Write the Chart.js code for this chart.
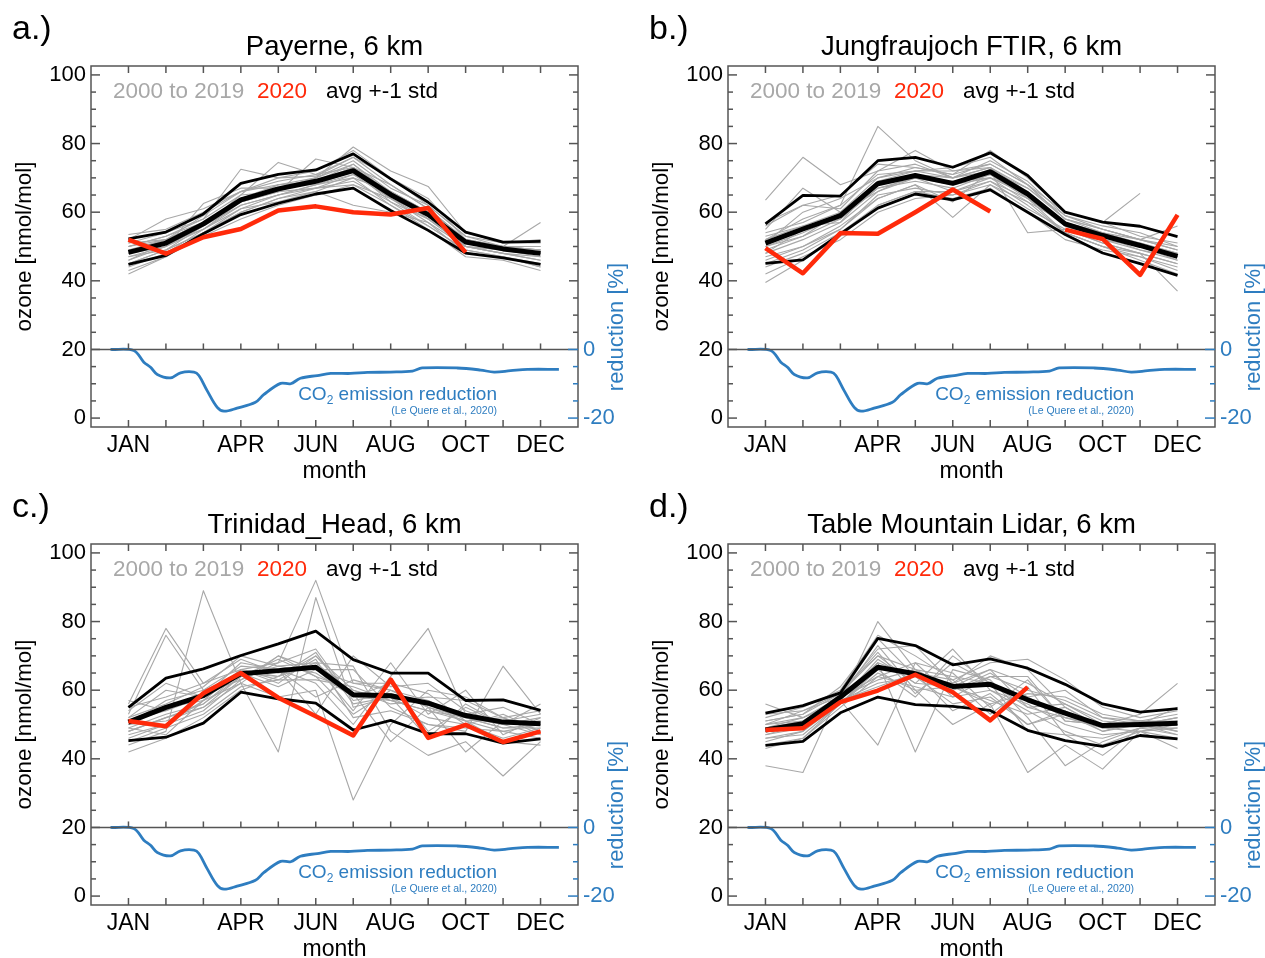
<!DOCTYPE html>
<html>
<head>
<meta charset="utf-8">
<script src="https://cdn.jsdelivr.net/npm/chart.js@4.4.0/dist/chart.umd.min.js"></script>
<style>
  html, body { margin: 0; padding: 0; background: #fff; overflow: hidden; }
  #wrap { position: relative; width: 1265px; height: 958px; }
  canvas { position: absolute; }
</style>
</head>
<body>
<div id="wrap">
  <canvas id="pa" width="632" height="479" style="left:0;top:0"></canvas>
  <canvas id="pb" width="632" height="479" style="left:637px;top:0"></canvas>
  <canvas id="pc" width="632" height="479" style="left:0;top:478px"></canvas>
  <canvas id="pd" width="632" height="479" style="left:637px;top:478px"></canvas>
</div>
<script>
const FONT = "'Liberation Sans', Arial, sans-serif";
const GREY = '#a8a8a8', RED = '#ff2a0a', BLUE = '#2e7dc0';

// x axis: month number 1..12, labelled ones only
const tickMonths = [1, 4, 6, 8, 10, 12];
const monthNames = ['', 'JAN', 'FEB', 'MAR', 'APR', 'MAY', 'JUN', 'JUL', 'AUG', 'SEP', 'OCT', 'NOV', 'DEC'];
const ozoneTicks = [0, 20, 40, 60, 80, 100];
const reductionTicks = [0, -20];

const stations = ['Payerne, 6 km', 'Jungfraujoch FTIR, 6 km', 'Trinidad_Head, 6 km', 'Table Mountain Lidar, 6 km'];
const letters = ['a.)', 'b.)', 'c.)', 'd.)'];

// CO2 emission reduction in % (Le Quere et al., 2020), position in months
const co2Month = [0.52, 1.14, 1.41, 1.59, 1.77, 2.12, 2.39, 2.75, 2.88, 3.10, 3.37, 3.55, 3.90, 4.39, 4.61, 5.06, 5.33, 5.59, 6.04, 6.40, 6.93, 7.38, 8.00, 8.58, 8.84, 9.78, 10.40, 10.76, 11.20, 11.65, 12.49];
const co2Pct   = [0, -0.3, -3.7, -5.2, -7.3, -8.3, -6.8, -6.6, -7.6, -12, -16.9, -18.0, -17.1, -15.4, -13.2, -9.9, -10.0, -8.4, -7.6, -7.0, -7.0, -6.7, -6.6, -6.3, -5.4, -5.4, -6.0, -6.6, -6.2, -5.8, -5.8];

// a.) Payerne
const greyA = [
  [53.5,55,60,66,70,70.5,76,70,64,52,50,50],
  [42,47,53,58,62,65,68,62,55,47,46,43],
  [49,52,57,64,67,69,74,66,60,50,49,49],
  [47,50,55,62,65,67,71,64,58,51,49,47],
  [51,54,58,72.5,70,72,78,70,62,53,51,52],
  [45,49,54,60,64,66,70,62,56,49,47,45],
  [50,53,58,65,74.5,71,73,65,60,52,50,49],
  [44,48,55,61,63,66,62,60,57,48,47,44],
  [48,52,57,63,66,75.5,73,68,61,52,49,48],
  [52,58,61,66,68,70,79,72,67.5,54,51,51],
  [46,50,56,64,67,69,72,64,59,50,48,46],
  [50,52,57,63,68,68,71,66,60,51,50,57],
  [43,47,54,60,64,67,69,63,56,49,47,44],
  [49,51,56,65,66,70,75,67,62,53,50,49],
  [47,49,56,62,65,68,70,66,58,50,49,48],
  [51,52,59,66,69,71,76,68,61,52,50,50],
  [46,51,55,63,66,67,68,64,57,50,48,47],
  [48,50,62.5,67,67,70,74,65,59,51,49,48],
  [45,49,54,61,65,68,72,63,58,50,48,46],
  [50,53,57,64,68,69,73,66,60,52,50,49]
];
const avgA = [48.3,51,56.6,63.6,66.8,69,72.1,65.1,59.3,51.3,49.3,48];
const hiA  = [52.2,54.2,59.5,68.4,71,72.3,77,69.7,62.9,54.2,51.3,51.5];
const loA  = [44.8,47.4,53.7,59.3,62.6,65.3,67,60.5,54.7,48.1,46.7,44.8];
const redA = [52,47.9,52.7,55.1,60.5,61.7,60,59.3,61.2,48.3,null,null];

// b.) Jungfraujoch FTIR
const greyB = [
  [63.5,76,68,72,74,70,75,69,59,56,54,50],
  [39.5,46,53,62,66,66,69,62,54,50,47,44],
  [52,58,62,85,75,70,73,66,57,54,51,48],
  [48,52,57,66,70,68,71,64,56,52,49,46],
  [55,67,60,70,72,73,76,68,58,55,52,49],
  [46,50,56,64,68,58.5,68,61,55,51,48,45],
  [51,60,64,70,73,71,78,70,60,57,65.5,null],
  [44,48,54,62,66,64,67,60,52,49,47,43],
  [53,56,60,69,71,70,72,67,58,54,50,47],
  [49,53,58,67,70,66,70,63,57,53,50,46],
  [57,62,61,72,78,72,74,68,58,55,52,50],
  [47,50,55,64,68,63,72,54,55,51,48,37],
  [50,54,59,68,70,69,70,65,56,53,49,47],
  [42,47,52,60,64,65,68,63,54,50,46,42],
  [54,57,62,71,72,72,73,67,59,55,52,49],
  [48,55,58,67,69,67,71,66,57,52,50,47],
  [56,62,65,74,73,71,74,68,60,57,53,51],
  [45,49,55,65,67,65,69,64,54,50,48,45],
  [50,53,60,66,71,68,70,66,56,53,51,48],
  [52,56,57,69,72,70,73,64,57,54,52,56]
];
const avgB = [51,55.1,59,68.3,70.7,68.4,71.8,65.3,56.6,53.2,50.3,47.1];
const hiB  = [56.6,64.9,64.7,75,76,73.1,77.3,70.7,60,57.1,55.9,52.9];
const loB  = [45.1,46.1,53.7,61.2,65.3,63.6,66.5,60,53.5,48.1,45,41.6];
const redB = [49.5,42.2,53.9,53.7,60,66.6,60.2,null,54.9,52.2,41.7,59.2];

// c.) Trinidad Head
const greyC = [
  [56,78,62,66,64,70,60,57,54,52,50,52],
  [44,48,89,62,58,60,28,50,60,58,52,48],
  [50,55,57,66,68,92,62,60,55,51,48,50],
  [48,52,55,62,42,87,55,58,52,50,46,49],
  [52,60,58,68,66,62,50,64,78,53,50,51],
  [46,50,54,63,70,66,66,55,50,48,67,53],
  [53,76,60,64,67,65,58,62,48,55,50,47],
  [42,46,52,60,64,68,67,48,41,45,35,45],
  [51,54,58,66,62,70,58,57,58,57,52,54],
  [49,53,56,64,66,58,63,60,55,52,49,50],
  [55,58,62,69,65,67,54,68,53,60,47,52],
  [47,50,57,62,70,64,60,56,57,50,53,48],
  [50,57,60,67,66,53,70,61,62,54,50,56],
  [45,49,53,61,63,69,52,54,50,49,48,46],
  [57,54,59,63,68,72,57,59,56,53,55,50],
  [48,52,56,65,61,66,62,62,59,51,45,44],
  [52,56,61,70,67,68,59,45,55,42,51,53],
  [50,51,55,64,69,64,53,60,57,52,49,49],
  [54,62,58,65,64,71,56,58,46,56,50,51],
  [49,47,57,66,63,63,61,57,54,51,52,47]
];
const avgC = [50.7,55,58.4,64.8,65.7,66.7,58.7,58.4,56.2,52.6,50.7,50.2];
const hiC  = [55,63.5,66.2,70.1,73.5,77.2,68.9,65,65,57,57.2,54.1];
const loC  = [45.3,46.3,50.4,59.4,57.5,56.2,48.4,51.2,47.3,47.3,44.6,45.8];
const redC = [51,49.5,59.1,65,57.8,52.4,46.8,63.1,46.1,49.9,44.9,48];

// d.) Table Mountain Lidar
const greyD = [
  [56,52,57,80,66,64,62,55,52,50,50,52],
  [38,36,60,70,62,72,60,54,48,44,48,49],
  [50,54,59,72,73,62,70,66,55,49,51,50],
  [46,48,57,44,68,58,64,60,57,52,50,48],
  [49,52,58,68,42,66,63,52,38,45,49,47],
  [52,55,60,76,70,63,68,69,63,55,52,54],
  [44,46,56,65,60,50,56,36,44,37,48,43],
  [48,50,59,70,66,60,65,58,52,49,50,52],
  [47,49,57,62,64,56,58,50,54,48,51,50],
  [51,53,61,75,64,62,66,62,56,51,50,55],
  [45,48,56,66,58,70,62,48,47,41,49,51],
  [49,51,57,69,62,61,56,59,58,53,51,48],
  [53,54,58,64,68,65,55,63,51,50,53,62],
  [43,46,55,64,61,58,60,56,50,47,48,46],
  [50,51,58,73,60,61,66,55,56,50,50,50],
  [48,49,57,61,65,63,53,61,47,46,49,49],
  [51,53,59,71,59,68,62,58,60,52,51,53],
  [46,47,56,67,65,54,59,50,53,48,50,47],
  [47,50,58,63,66,60,64,64,51,50,51,51],
  [50,52,57,68,64,61,57,53,55,49,48,50]
];
const avgD = [48.4,50.2,58,66.7,64.8,61.1,61.7,57.2,53.3,49.7,50,50.4];
const hiD  = [53.3,55.5,59.2,75.1,73,67.4,69.1,66.4,61.7,56,53.6,54.6];
const loD  = [43.9,45.1,53.4,58,55.8,55.3,54.1,48.3,45.3,43.6,46.8,45.8];
const redD = [48.4,48.9,56.5,59.9,64.5,59.4,51.2,60.9,null,null,null,null];

const pts = arr => arr.map((v, i) => ({ x: i + 1, y: v }));

function line(ctx, x1, y1, x2, y2) {
  ctx.beginPath(); ctx.moveTo(x1, y1); ctx.lineTo(x2, y2); ctx.stroke();
}

// box, inner ticks, separator and all the annotations
const decor = {
  id: 'decor',
  afterDraw(chart, args, o) {
    const { ctx, chartArea: a, scales: { x, y, y2 } } = chart;
    ctx.save();
    ctx.lineWidth = 1.5;
    ctx.strokeStyle = '#555';
    ctx.strokeRect(a.left, a.top, a.right - a.left, a.bottom - a.top);
    const ySep = y.getPixelForValue(20);
    line(ctx, a.left, ySep, a.right, ySep);

    // month ticks: bottom, top, separator
    for (let m = 1; m <= 12; m++) {
      const px = x.getPixelForValue(m);
      line(ctx, px, a.bottom, px, a.bottom - 7);
      line(ctx, px, a.top, px, a.top + 7);
      line(ctx, px, ySep, px, ySep - 6);
    }
    // ozone ticks left (and right above separator)
    for (let v = 0; v <= 100; v += 5) {
      const py = y.getPixelForValue(v);
      const len = v % 20 === 0 ? 9 : 5;
      ctx.strokeStyle = '#555';
      line(ctx, a.left, py, a.left + len, py);
      if (v > 20) line(ctx, a.right, py, a.right - len, py);
    }
    // reduction ticks right
    ctx.strokeStyle = BLUE;
    for (let v = 0; v >= -20; v -= 5) {
      const py = y2.getPixelForValue(v);
      const len = v % 20 === 0 ? 10 : 5;
      line(ctx, a.right, py, a.right - len, py);
    }

    ctx.textBaseline = 'middle';
    // panel letter and title
    ctx.fillStyle = '#000';
    ctx.textAlign = 'left';
    ctx.font = '34px ' + FONT;
    ctx.fillText(o.letter, 12, 30);
    ctx.textAlign = 'center';
    ctx.font = '27.5px ' + FONT;
    ctx.fillText(o.title, (a.left + a.right) / 2, 47);

    // axis titles
    ctx.font = '23px ' + FONT;
    ctx.fillText('month', (a.left + a.right) / 2, a.bottom + 45);
    ctx.font = '22.3px ' + FONT;
    ctx.save();
    ctx.translate(a.left - 66, (a.top + a.bottom) / 2);
    ctx.rotate(-Math.PI / 2);
    ctx.fillText('ozone [nmol/mol]', 0, 0);
    ctx.restore();
    ctx.save();
    ctx.fillStyle = BLUE;
    ctx.font = '22px ' + FONT;
    ctx.translate(a.right + 39, a.bottom - 100);
    ctx.rotate(-Math.PI / 2);
    ctx.fillText('reduction [%]', 0, 0);
    ctx.restore();

    // in-plot legend
    ctx.textAlign = 'left';
    ctx.font = '22.5px ' + FONT;
    const ly = a.top + 26;
    ctx.fillStyle = GREY; ctx.fillText('2000 to 2019', a.left + 22, ly);
    ctx.fillStyle = RED;  ctx.fillText('2020', a.left + 166, ly);
    ctx.fillStyle = '#000'; ctx.fillText('avg +-1 std', a.left + 235, ly);

    // CO2 label, right aligned
    const xr = a.right - 81;
    ctx.fillStyle = BLUE;
    ctx.font = '19px ' + FONT;
    const wCO = ctx.measureText('CO').width;
    const wRest = ctx.measureText(' emission reduction').width;
    ctx.font = '12px ' + FONT;
    const wSub = ctx.measureText('2').width;
    let x0 = xr - wCO - wSub - wRest;
    const cy = a.bottom - 32;
    ctx.font = '19px ' + FONT;
    ctx.fillText('CO', x0, cy);
    ctx.font = '12px ' + FONT;
    ctx.fillText('2', x0 + wCO, cy + 6);
    ctx.font = '19px ' + FONT;
    ctx.fillText(' emission reduction', x0 + wCO + wSub, cy);
    ctx.textAlign = 'right';
    ctx.font = '10.5px ' + FONT;
    ctx.fillText('(Le Quere et al., 2020)', xr, a.bottom - 16);
    ctx.restore();
  }
};

function makePanel(id, k, grey, lo, hi, avg, red) {
  const datasets = [];
  grey.forEach(g => datasets.push({ data: pts(g), borderColor: GREY, borderWidth: 1.1, order: 5, yAxisID: 'y' }));
  datasets.push({ data: pts(lo), borderColor: '#000', borderWidth: 2.8, order: 4, yAxisID: 'y' });
  datasets.push({ data: pts(hi), borderColor: '#000', borderWidth: 2.8, order: 4, yAxisID: 'y' });
  datasets.push({ data: pts(avg), borderColor: '#000', borderWidth: 5, order: 3, yAxisID: 'y' });
  datasets.push({ data: pts(red), borderColor: RED, borderWidth: 4.5, order: 2, yAxisID: 'y' });
  datasets.push({
    data: co2Month.map((m, i) => ({ x: m, y: co2Pct[i] })),
    borderColor: BLUE, borderWidth: 2.8, tension: 0.35, order: 1, yAxisID: 'y2'
  });

  new Chart(document.getElementById(id), {
    type: 'line',
    data: { datasets },
    options: {
      responsive: false,
      animation: false,
      events: [],
      layout: { padding: { top: 66, left: 0, right: 0, bottom: 0 } },
      elements: { point: { radius: 0 }, line: { borderJoinStyle: 'round', borderCapStyle: 'butt', tension: 0 } },
      plugins: {
        legend: { display: false },
        tooltip: { enabled: false },
        decor: { letter: letters[k], title: stations[k] }
      },
      scales: {
        x: {
          type: 'linear', min: 0, max: 13,
          grid: { display: false, drawTicks: false },
          border: { display: false },
          afterBuildTicks: s => { s.ticks = tickMonths.map(v => ({ value: v })); },
          afterFit: s => { s.height = 52; },
          ticks: { color: '#000', padding: 5, maxRotation: 0, autoSkip: false,
                   font: { family: FONT, size: 23 }, callback: v => monthNames[v] }
        },
        y: {
          type: 'linear', position: 'left', min: -2.6, max: 102.6,
          grid: { display: false, drawTicks: false },
          border: { display: false },
          afterBuildTicks: s => { s.ticks = ozoneTicks.map(v => ({ value: v })); },
          afterFit: s => { s.width = 91; },
          ticks: { color: '#000', padding: 5, font: { family: FONT, size: 22 } }
        },
        y2: {
          type: 'linear', position: 'right', min: -22.6, max: 82.6,
          grid: { display: false, drawTicks: false },
          border: { display: false },
          afterBuildTicks: s => { s.ticks = reductionTicks.map(v => ({ value: v })); },
          afterFit: s => { s.width = 54; },
          ticks: { color: BLUE, padding: 5, font: { family: FONT, size: 22 } }
        }
      }
    },
    plugins: [decor]
  });
}

makePanel('pa', 0, greyA, loA, hiA, avgA, redA);
makePanel('pb', 1, greyB, loB, hiB, avgB, redB);
makePanel('pc', 2, greyC, loC, hiC, avgC, redC);
makePanel('pd', 3, greyD, loD, hiD, avgD, redD);
</script>
</body>
</html>
